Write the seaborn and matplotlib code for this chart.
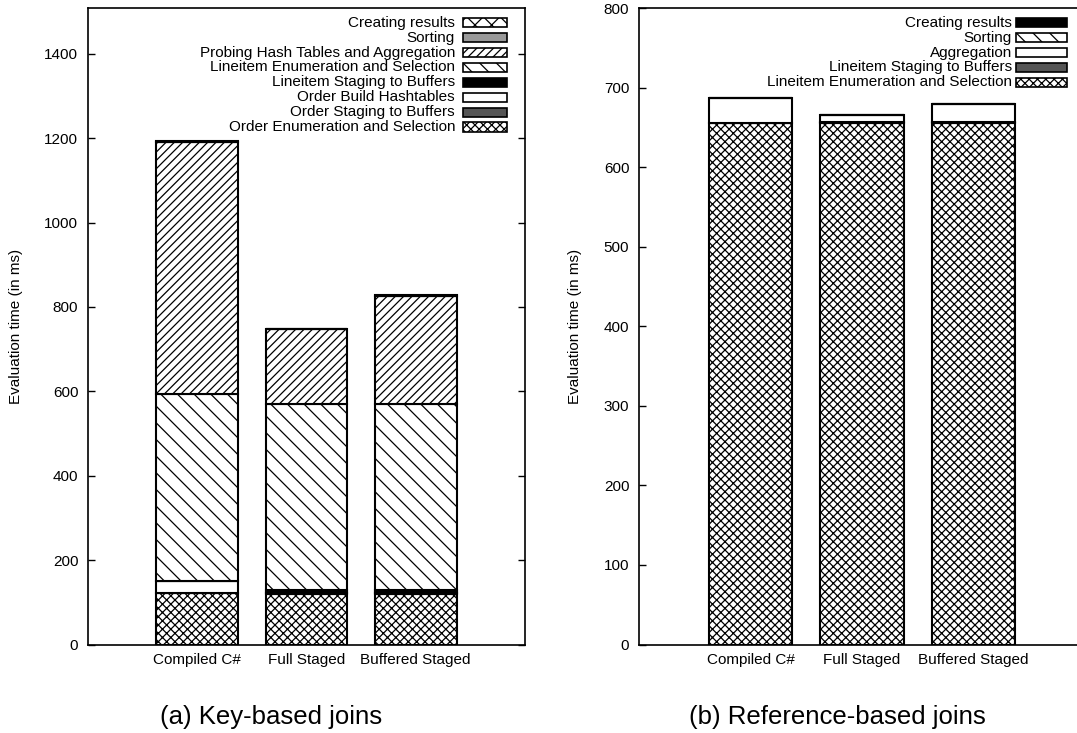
import numpy as np
import matplotlib
matplotlib.use("Agg")
import matplotlib.pyplot as plt
from matplotlib.patches import Rectangle
import seaborn as sns

systems = ["Compiled C#", "Full Staged", "Buffered Staged"]

# (a) key-based joins, stacked from bottom to top
key_layers = ["Order Enumeration and Selection", "Order Staging to Buffers",
              "Order Build Hashtables", "Lineitem Staging to Buffers",
              "Lineitem Enumeration and Selection",
              "Probing Hash Tables and Aggregation", "Sorting", "Creating results"]
order_enum = [122, 119, 119]
order_staging = [0, 4, 4]
order_hashtables = [29, 2, 2]
lineitem_staging_a = [0, 4, 4]
lineitem_enum_a = [443, 442, 442]
probing = [597, 176, 255]
sorting_a = [1, 1, 1]
creating_a = [1, 1, 1]
key_values = [order_enum, order_staging, order_hashtables, lineitem_staging_a,
              lineitem_enum_a, probing, sorting_a, creating_a]

# (b) reference-based joins, stacked from bottom to top
ref_layers = ["Lineitem Enumeration and Selection", "Lineitem Staging to Buffers",
              "Aggregation", "Sorting", "Creating results"]
lineitem_enum_b = [656, 656, 656]
lineitem_staging_b = [0, 1, 1]
aggregation = [31, 9, 23]
sorting_b = [0, 0, 0]
creating_b = [0, 0, 0]
ref_values = [lineitem_enum_b, lineitem_staging_b, aggregation, sorting_b, creating_b]

key_styles = {
    "Order Enumeration and Selection": ("white", "xxxx"),
    "Order Staging to Buffers": ("#555555", None),
    "Order Build Hashtables": ("white", None),
    "Lineitem Staging to Buffers": ("black", None),
    "Lineitem Enumeration and Selection": ("white", "\\\\"),
    "Probing Hash Tables and Aggregation": ("white", "////"),
    "Sorting": ("#999999", None),
    "Creating results": ("white", "xx"),
}
ref_styles = {
    "Lineitem Enumeration and Selection": ("white", "xxxx"),
    "Lineitem Staging to Buffers": ("#555555", None),
    "Aggregation": ("white", None),
    "Sorting": ("white", "\\\\"),
    "Creating results": ("black", None),
}

sns.set_style("ticks")
plt.rcParams["font.family"] = ["Liberation Sans", "DejaVu Sans"]
plt.rcParams["hatch.linewidth"] = 0.9
plt.rcParams["axes.edgecolor"] = "black"
plt.rcParams["text.color"] = "black"
plt.rcParams["xtick.color"] = "black"
plt.rcParams["ytick.color"] = "black"

W, H = 1077, 733
fig = plt.figure(figsize=(W / 100, H / 100), dpi=100)
ax1 = fig.add_axes([88 / W, 1 - 644.5 / H, (525 - 88) / W, (644.5 - 8.3) / H])
ax2 = fig.add_axes([639 / W, 1 - 644.5 / H, (W - 639) / W, (644.5 - 8.3) / H])


def stacked(ax, layers, values, styles):
    bottom = np.zeros(len(systems))
    for name, vals in zip(layers, values):
        face, hatch = styles[name]
        sns.barplot(x=systems, y=vals, bottom=bottom, ax=ax, color=face,
                    saturation=1, width=0.75, errorbar=None,
                    edgecolor="black", linewidth=1.5, hatch=hatch)
        bottom = bottom + np.array(vals)


def legend(ax, layers, styles, text_right, box_left, box_right):
    # gnuplot style key: label right-aligned, sample box to its right
    x0 = ax.get_position().x0 * W
    w = ax.get_position().width * W
    for i, name in enumerate(reversed(layers)):
        y_px = 22.7 + 14.9 * i
        y = 1 - (y_px - 8.3) / (644.5 - 8.3)
        ax.text((text_right - x0) / w, y, name, transform=ax.transAxes,
                ha="right", va="center", fontsize=11)
        face, hatch = styles[name]
        bh = 9 / (644.5 - 8.3)
        ax.add_patch(Rectangle(((box_left - x0) / w, y - bh / 2),
                               (box_right - box_left) / w, bh,
                               transform=ax.transAxes, facecolor=face,
                               hatch=hatch, edgecolor="black", linewidth=1.2,
                               clip_on=False))


stacked(ax1, key_layers, key_values, key_styles)
stacked(ax2, ref_layers, ref_values, ref_styles)
legend(ax1, key_layers, key_styles, 455, 463, 507)
legend(ax2, ref_layers, ref_styles, 1012, 1016, 1067)

ax1.set_xlim(-1, 3)
ax1.set_ylim(0, 1508)
ax1.set_yticks(range(0, 1401, 200))
ax2.set_xlim(-1, -1 + (W - 639) / 111.5)
ax2.set_ylim(0, 800)
ax2.set_yticks(range(0, 801, 100))
ax2.spines["right"].set_visible(False)

for ax in (ax1, ax2):
    ax.set_xlabel("")
    ax.set_ylabel("")
    for s in ax.spines.values():
        s.set_linewidth(1.2)
    ax.tick_params(axis="y", direction="in", length=5, width=1, right=True,
                   labelsize=11, pad=7)
    ax.tick_params(axis="x", length=0, labelsize=11, pad=6)
ax2.tick_params(axis="y", right=False)

ycen = 1 - (8.3 + 644.5) / 2 / H
fig.text(16.5 / W, ycen, "Evaluation time (in ms)", rotation=90,
         ha="center", va="center", fontsize=11)
fig.text(575 / W, ycen, "Evaluation time (in ms)", rotation=90,
         ha="center", va="center", fontsize=11)
fig.text(160 / W, 1 - 724 / H, "(a) Key-based joins", ha="left",
         va="baseline", fontsize=18.5)
fig.text(689 / W, 1 - 724 / H, "(b) Reference-based joins", ha="left",
         va="baseline", fontsize=18.5)

fig.savefig("out.png", dpi=100)
